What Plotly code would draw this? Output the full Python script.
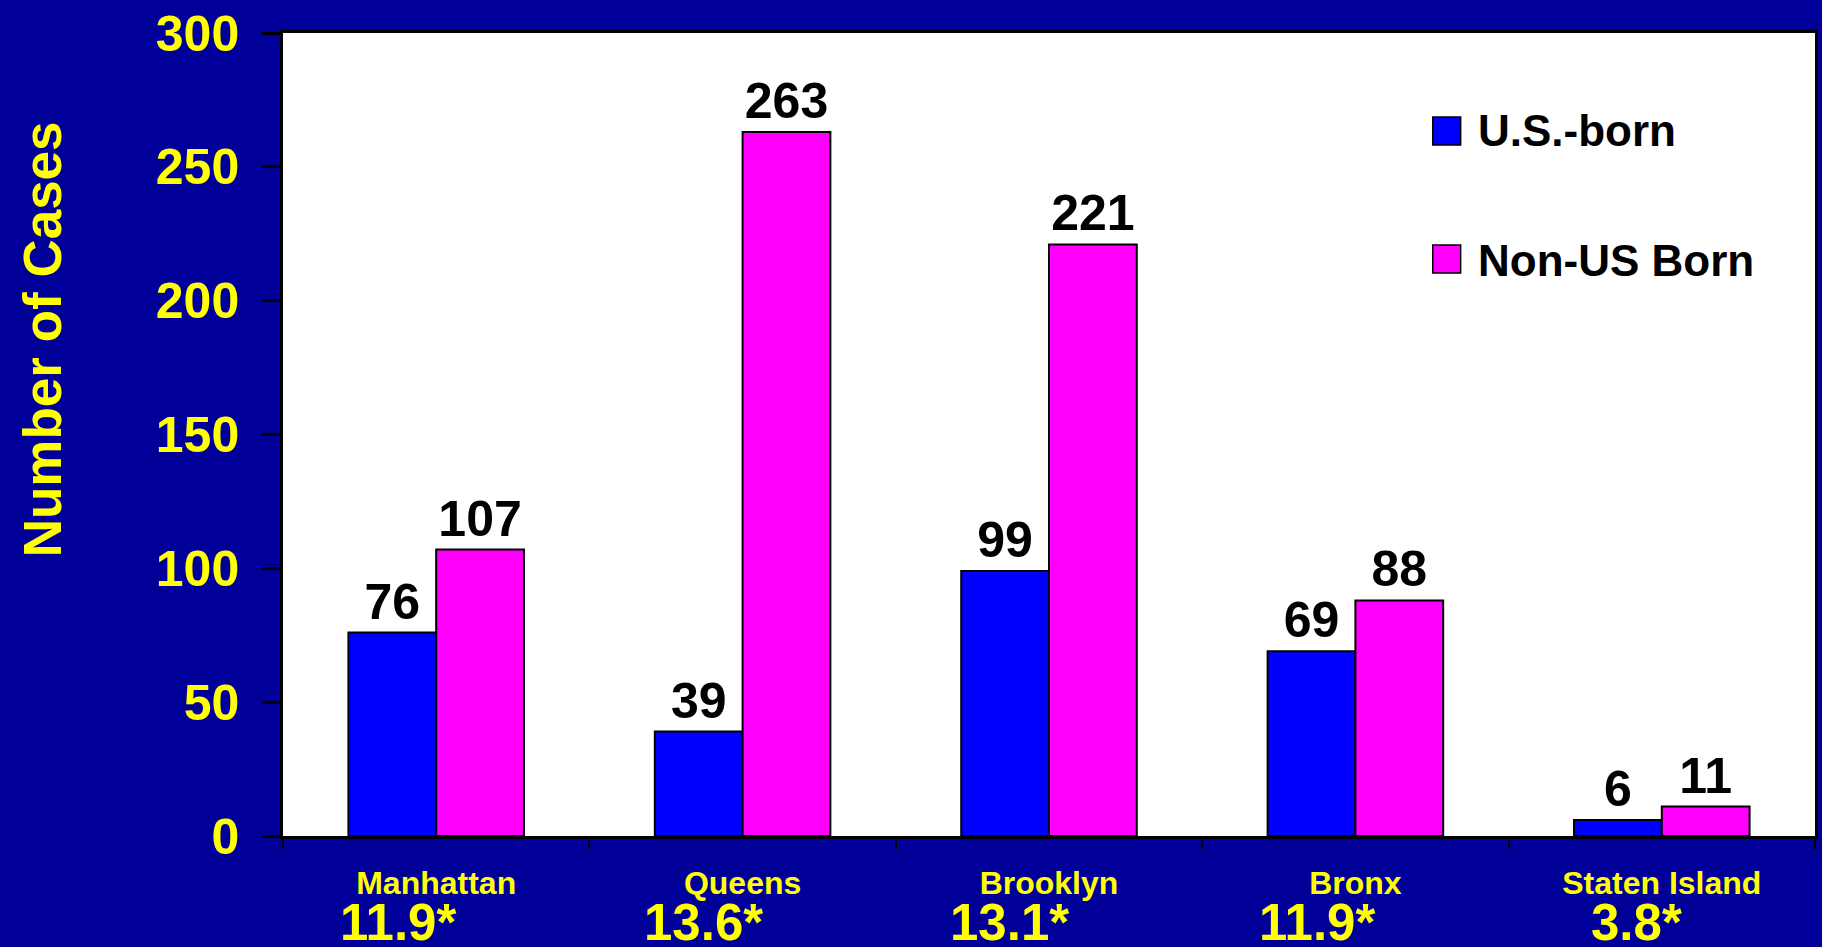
import plotly.graph_objects as go

# Tuberculosis cases by borough and birthplace
boroughs = ["Manhattan", "Queens", "Brooklyn", "Bronx", "Staten Island"]
rates = ["11.9", "13.6", "13.1", "11.9", "3.8"]
us_born = [76, 39, 99, 69, 6]
non_us_born = [107, 263, 221, 88, 11]
series_names = ["U.S.-born", "Non-US Born"]
series_colors = ["#0000FF", "#FF00FF"]
y_ticks = [0, 50, 100, 150, 200, 250, 300]
y_title = "Number of Cases"

FONT = "Liberation Sans, Arial, sans-serif"
NAVY = "#000099"
YELLOW = "#FFFF00"

fig = go.Figure()
for name, vals, color in zip(series_names, [us_born, non_us_born], series_colors):
    fig.add_trace(go.Bar(
        x=boroughs, y=vals, name=name,
        marker=dict(color=color, line=dict(color="black", width=2)),
        text=[str(v) for v in vals], textposition="outside",
        textfont=dict(family=FONT, size=50, color="black", weight="bold"),
        constraintext="none", cliponaxis=False, showlegend=False,
    ))

# rate annotations under each borough name
annotations = []
for b, r in zip(boroughs, rates):
    annotations.append(dict(
        x=b, y=0, xref="x", yref="paper", text=r + "*",
        showarrow=False, xanchor="right", yanchor="top",
        xshift=22, yshift=-56,
        font=dict(family=FONT, size=51, color=YELLOW, weight="bold"),
    ))

# vertical axis title, set above the middle of the axis
annotations.append(dict(
    x=-0.1564, y=0.619, xref="paper", yref="paper", text=y_title,
    showarrow=False, textangle=-90, xanchor="center", yanchor="middle",
    font=dict(family=FONT, size=53, color=YELLOW, weight="bold"),
))

# legend drawn as swatches with labels
shapes = []
legend_rows = [(0.8954, 0.8605, 0.878), (0.736, 0.701, 0.717)]
for (y1, y0, yt), name, color in zip(legend_rows, series_names, series_colors):
    shapes.append(dict(type="rect", xref="paper", yref="paper",
                       x0=0.7505, x1=0.7687, y0=y0, y1=y1,
                       fillcolor=color, line=dict(color="black", width=1.5)))
    annotations.append(dict(
        x=0.7785, y=yt, xref="paper", yref="paper", text=name,
        showarrow=False, xanchor="left", yanchor="middle",
        font=dict(family=FONT, size=44, color="black", weight="bold"),
    ))

fig.update_layout(
    width=1822, height=947,
    paper_bgcolor=NAVY, plot_bgcolor="white",
    margin=dict(l=283, r=4, t=33, b=111),
    barmode="group", bargap=0.427, bargroupgap=0,
    shapes=shapes, annotations=annotations,
    font=dict(family=FONT),
)
fig.update_xaxes(
    type="category", tickson="boundaries",
    ticks="outside", ticklen=10, tickwidth=2, tickcolor="black",
    ticklabelstandoff=17,
    showline=True, linecolor="black", linewidth=3, mirror=True,
    showgrid=False,
    tickfont=dict(family=FONT, size=32, color=YELLOW, weight="bold"),
)
fig.update_yaxes(
    range=[0, 300], tickvals=y_ticks,
    ticks="outside", ticklen=18, tickwidth=3, tickcolor="black",
    ticklabelstandoff=13,
    showline=True, linecolor="black", linewidth=2.5, mirror=True,
    showgrid=False, zeroline=False,
    tickfont=dict(family=FONT, size=50, color=YELLOW, weight="bold"),
)

fig.write_html("out.html")
